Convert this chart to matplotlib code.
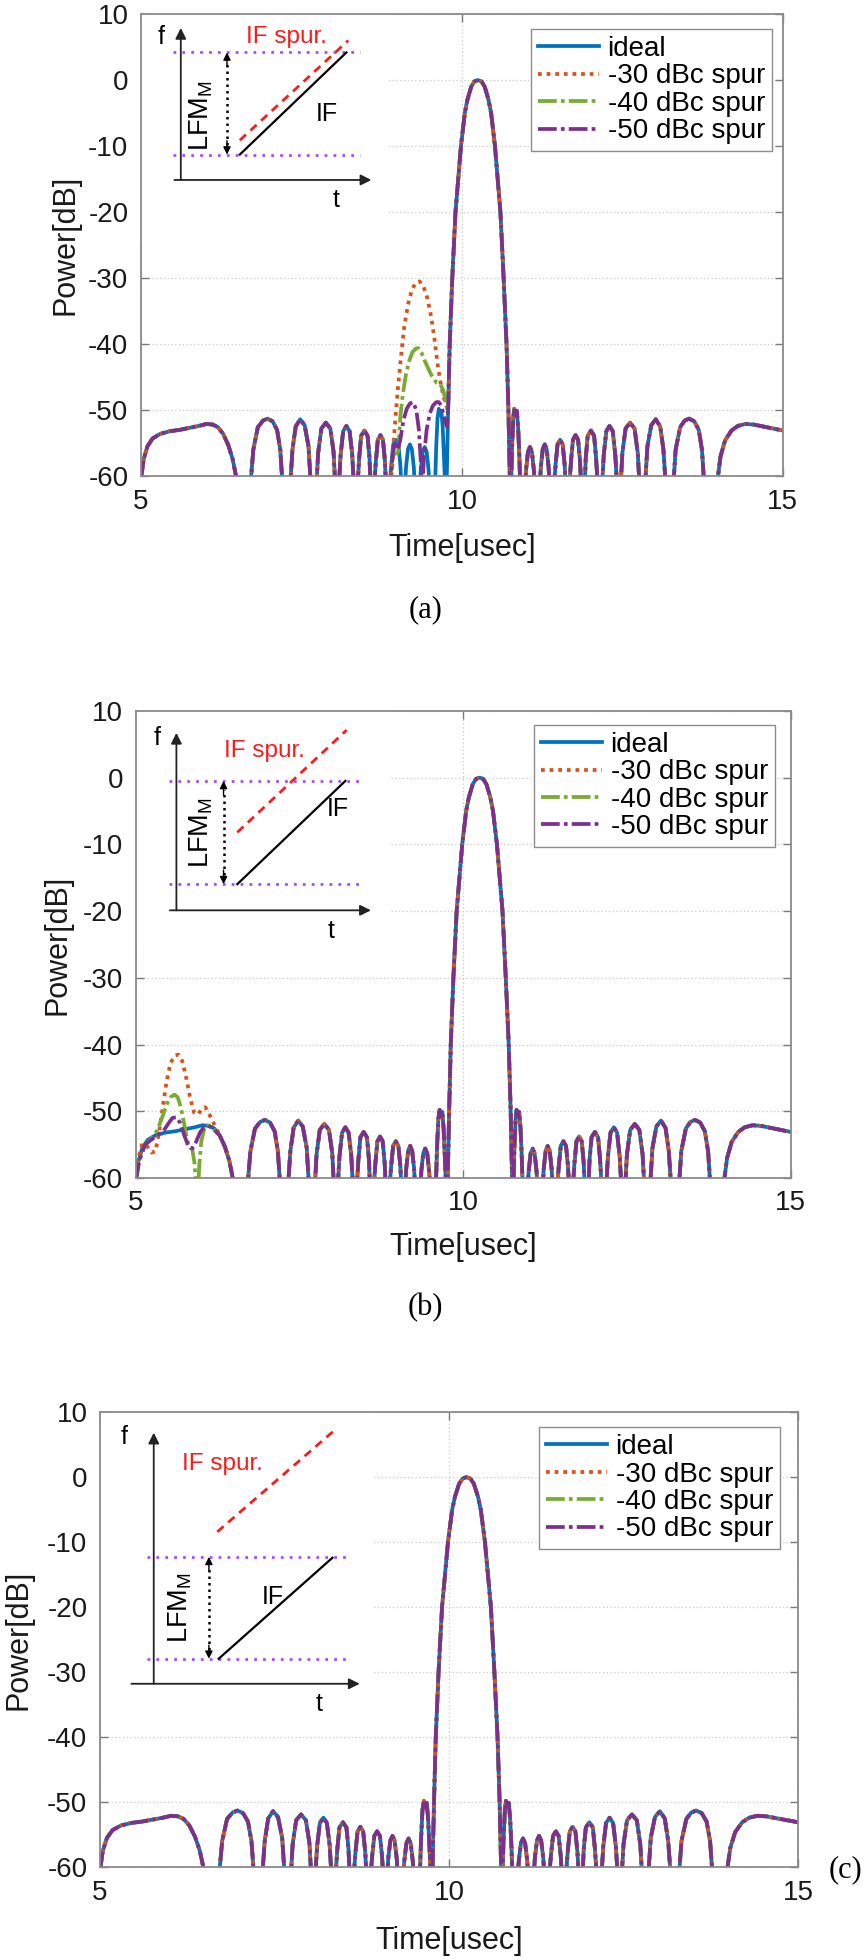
import matplotlib.pyplot as plt
from matplotlib.patches import Rectangle

plt.rcParams['font.family'] = ['Liberation Sans', 'DejaVu Sans']
plt.rcParams['mathtext.fontset'] = 'custom'
plt.rcParams['mathtext.rm'] = 'Liberation Sans'
plt.rcParams['axes.unicode_minus'] = False

# ideal compressed pulse (same curve in all three panels)
ideal_t = [5.0, 5.04, 5.1, 5.18, 5.3, 5.45, 5.6, 5.75, 5.9, 6.02, 6.12, 6.2, 6.28, 6.36, 6.43, 6.49, 6.5,
           6.70, 6.75, 6.82, 6.9, 6.97, 7.05, 7.12, 7.17, 7.21,
           7.32, 7.36, 7.41, 7.48, 7.55, 7.61, 7.65,
           7.73, 7.76, 7.81, 7.88, 7.95, 8.0, 8.03,
           8.08, 8.11, 8.15, 8.2, 8.25, 8.29, 8.32,
           8.37, 8.4, 8.43, 8.48, 8.53, 8.56, 8.58,
           8.63, 8.66, 8.69, 8.73, 8.77, 8.8, 8.82,
           8.87, 8.9, 8.93, 8.97, 9.01, 9.04, 9.06,
           9.11, 9.13, 9.16, 9.19, 9.22, 9.25, 9.27,
           9.34, 9.36, 9.39, 9.42, 9.45, 9.48, 9.5,
           9.58, 9.6, 9.62, 9.64, 9.66, 9.68, 9.7, 9.72, 9.74,
           9.76, 9.785, 9.81, 9.85, 9.9, 9.985, 10.045, 10.085, 10.145, 10.195, 10.25,
           10.305, 10.355, 10.415, 10.455, 10.515, 10.6, 10.65, 10.695, 10.725, 10.75,
           10.765, 10.78, 10.8, 10.815, 10.835, 10.855, 10.875, 10.895, 10.91,
           10.98, 11.0, 11.03, 11.06, 11.09, 11.12, 11.14,
           11.21, 11.23, 11.26, 11.29, 11.32, 11.35, 11.37,
           11.43, 11.46, 11.49, 11.53, 11.57, 11.6, 11.62,
           11.67, 11.7, 11.73, 11.77, 11.81, 11.84, 11.86,
           11.91, 11.93, 11.96, 12.01, 12.06, 12.09, 12.12,
           12.18, 12.21, 12.25, 12.3, 12.35, 12.39, 12.42,
           12.47, 12.5, 12.55, 12.62, 12.69, 12.74, 12.77,
           12.85, 12.89, 12.95, 13.02, 13.09, 13.14, 13.18,
           13.29, 13.33, 13.4, 13.47, 13.54, 13.62, 13.69, 13.74, 13.78,
           13.97, 13.99, 14.03, 14.1, 14.2, 14.3, 14.42, 14.55, 14.7, 14.85, 15.0]
ideal_db = [-60.5, -57.5, -55.5, -54.3, -53.6, -53.2, -53.0, -52.7, -52.4, -52.1, -52.2, -52.6, -53.6, -55.3, -57.5, -60.5, -62,
            -62, -56, -52.6, -51.6, -51.3, -51.7, -53, -56, -62,
            -62, -56, -52.5, -51.4, -52.3, -55.5, -62,
            -62, -56.5, -52.8, -51.9, -52.8, -56.3, -62,
            -62, -56.8, -53.2, -52.4, -53.2, -56.6, -62,
            -62, -57.2, -53.9, -53.1, -53.9, -57.2, -62,
            -62, -57.7, -54.5, -53.8, -54.5, -57.7, -62,
            -62, -58.2, -55.2, -54.5, -55.2, -58.2, -62,
            -62, -58.6, -55.9, -55.2, -55.9, -58.6, -62,
            -62, -59, -56.3, -55.6, -56.3, -59, -62,
            -62, -55.5, -51.2, -49.8, -50.8, -50.1, -52.5, -57, -62,
            -62, -50, -40, -30, -20, -10, -5, -3, -1, -0.2, 0,
            -0.2, -1, -3, -5, -10, -20, -30, -40, -50, -62,
            -62, -56, -51.2, -49.8, -50.8, -50.1, -52.5, -57, -62,
            -62, -59, -56.3, -55.6, -56.3, -59, -62,
            -62, -58.6, -55.9, -55.2, -55.9, -58.6, -62,
            -62, -58.2, -55.2, -54.5, -55.2, -58.2, -62,
            -62, -57.7, -54.5, -53.8, -54.5, -57.7, -62,
            -62, -57.2, -53.9, -53.1, -53.9, -57.2, -62,
            -62, -56.8, -53.2, -52.4, -53.2, -56.8, -62,
            -62, -56.5, -52.8, -51.9, -52.8, -56.5, -62,
            -62, -55.5, -52.3, -51.4, -52.5, -56, -62,
            -62, -56, -52.6, -51.6, -51.3, -51.7, -53, -56, -62,
            -62, -60, -57, -54.6, -53.1, -52.4, -52.1, -52.2, -52.5, -52.8, -53.1]

# (a) spur just before the main lobe
a_win = (8.86, 9.77)
a30_t = [8.88, 8.92, 8.95, 9.0, 9.05, 9.1, 9.16, 9.22, 9.28, 9.34, 9.4, 9.46, 9.52, 9.57, 9.62, 9.67, 9.72, 9.765]
a30_db = [-62, -58, -53, -47, -42, -37.5, -34, -31.8, -30.7, -30.5, -31.2, -33, -35.8, -39, -43, -46, -48.2, -49.6]
a40_t = [8.88, 8.91, 8.94, 8.97, 8.99, 9.01, 9.04, 9.08, 9.13, 9.18, 9.23, 9.28, 9.32, 9.37, 9.42, 9.48, 9.54, 9.6, 9.66, 9.71, 9.765]
a40_db = [-62, -58, -55.6, -55.5, -57, -56, -51, -47.5, -44.5, -42.5, -41.2, -40.7, -40.6, -41.3, -42.5, -43.8, -45, -45.8, -46, -47, -49.5]
a50_t = [8.88, 8.91, 8.94, 8.97, 9.0, 9.04, 9.09, 9.14, 9.19, 9.24, 9.29, 9.33, 9.36, 9.38, 9.41, 9.45, 9.5, 9.55, 9.6, 9.64, 9.68, 9.72, 9.765]
a50_db = [-62, -58, -55.3, -54.8, -56, -54.5, -51.5, -49.8, -49, -48.8, -50, -53, -58, -62, -57, -53, -50.5, -49.3, -48.8, -48.8, -49.3, -51, -52.5]

# (b) spur at the start of the record
b_win = (4.99, 6.21)
b30_t = [5.0, 5.04, 5.1, 5.17, 5.24, 5.3, 5.35, 5.41, 5.47, 5.53, 5.59, 5.65, 5.71, 5.77, 5.83, 5.89, 5.95, 6.01, 6.06, 6.12, 6.18]
b30_db = [-60.5, -57, -54.8, -55.2, -56.2, -56, -53.5, -49.5, -45.5, -42.8, -41.7, -41.5, -42.5, -45, -48, -50.2, -50.5, -49.6, -49.4, -50.4, -51.6]
b40_t = [5.0, 5.05, 5.14, 5.25, 5.33, 5.4, 5.47, 5.53, 5.59, 5.64, 5.69, 5.74, 5.79, 5.83, 5.86, 5.9, 5.92, 5.95, 5.97, 6.0, 6.05, 6.1, 6.16, 6.2]
b40_db = [-60.5, -57.5, -55, -54, -52.8, -51, -49, -47.9, -47.5, -47.9, -49.5, -52, -54.5, -55.5, -55.5, -58, -62, -62, -58, -54.5, -52.5, -52.1, -52.4, -52.8]
b50_t = [5.0, 5.05, 5.14, 5.3, 5.42, 5.5, 5.56, 5.62, 5.68, 5.74, 5.8, 5.86, 5.92, 5.98, 6.04, 6.1, 6.16, 6.2]
b50_db = [-60.5, -57.5, -55, -53.8, -53, -51.8, -51, -50.9, -51.8, -53.6, -55.2, -55.6, -54.6, -53.2, -52.4, -52.2, -52.4, -52.8]

labels = ['ideal', '-30 dBc spur', '-40 dBc spur', '-50 dBc spur']
colors = ['#0072BD', '#D95319', '#77AC30', '#7E2F8E']
styles = ['-', (0, (1, 1.3)), (0, (5, 1.1, 1, 1.1)), (0, (5, 1.1, 1, 1.1))]
yticks = [-60, -50, -40, -30, -20, -10, 0, 10]
xticks = [5, 10, 15]


def pieces(win, t, db):
    # ideal before the window, the spur part, ideal after the window;
    # drawn apart so the dash patterns of all curves stay in step outside the window
    if win is None:
        return [(ideal_t, ideal_db)]
    pre = [(x, y) for x, y in zip(ideal_t, ideal_db) if x < win[0]]
    post = [(x, y) for x, y in zip(ideal_t, ideal_db) if x > win[1]]
    mid = pre[-1:] + list(zip(t, db)) + post[:1]
    out = []
    for part in (pre, mid, post):
        if part:
            out.append(([q[0] for q in part], [q[1] for q in part]))
    return out


panels = [
    dict(rect=[0.163, 0.7571, 0.742, 0.2357], ylx=-0.118, xly=-0.156, tag='(a)', tag_xy=(0.4925, 0.6888),
         leg=(0.983, 0.9675),
         spurs=[pieces(a_win, a30_t, a30_db), pieces(a_win, a40_t, a40_db), pieces(a_win, a50_t, a50_db)],
         ins=dict(fx=0.062, tx0=0.052, ty=0.641, ftop=0.970, tx1=0.359, f=(0.032, 0.951), t=(0.304, 0.597),
                  hi=0.917, lo=0.696, px=(0.05, 0.341), ax_=0.134, lfm=(0.094, 0.78),
                  IF=((0.154, 0.696), (0.320, 0.917)), sp=((0.154, 0.727), (0.323, 0.943)),
                  sptxt=(0.227, 0.951), iftxt=(0.289, 0.784), mask=(0.386, 0.5))),
    dict(rect=[0.157, 0.399, 0.757, 0.2383], ylx=-0.119, xly=-0.148, tag='(b)', tag_xy=(0.4913, 0.3327),
         leg=(0.976, 0.970),
         spurs=[pieces(b_win, b30_t, b30_db), pieces(b_win, b40_t, b40_db), pieces(b_win, b50_t, b50_db)],
         ins=dict(fx=0.062, tx0=0.052, ty=0.573, ftop=0.953, tx1=0.359, f=(0.033, 0.943), t=(0.298, 0.528),
                  hi=0.850, lo=0.629, px=(0.05, 0.342), ax_=0.134, lfm=(0.10, 0.74),
                  IF=((0.155, 0.629), (0.32, 0.85)), sp=((0.155, 0.74), (0.322, 0.959)),
                  sptxt=(0.196, 0.914), iftxt=(0.309, 0.789), mask=(0.39, 0.5))),
    dict(rect=[0.1156, 0.0474, 0.807, 0.2321], ylx=-0.117, xly=-0.163, tag='(c)', tag_xy=(0.977, 0.0459),
         leg=(0.974, 0.967),
         spurs=[pieces(None, None, None)] * 3,
         ins=dict(fx=0.077, tx0=0.045, ty=0.403, ftop=0.955, tx1=0.372, f=(0.034, 0.945), t=(0.314, 0.358),
                  hi=0.682, lo=0.458, px=(0.068, 0.355), ax_=0.156, lfm=(0.115, 0.571),
                  IF=((0.170, 0.458), (0.333, 0.680)), sp=((0.168, 0.737), (0.335, 0.959)),
                  sptxt=(0.175, 0.885), iftxt=(0.247, 0.594), mask=(0.39, 0.33))),
]


def draw_inset(ax, g):
    ax.add_patch(Rectangle((0, g['mask'][1]), g['mask'][0], 1 - g['mask'][1], transform=ax.transAxes,
                           facecolor='white', edgecolor='none', zorder=1))
    kw = dict(xycoords='axes fraction', textcoords='axes fraction', annotation_clip=False)
    arr = dict(arrowstyle='-|>', color='#222222', lw=1.3, mutation_scale=16, shrinkA=0, shrinkB=0)
    ax.annotate('', xy=(g['fx'], g['ftop']), xytext=(g['fx'], g['ty']), arrowprops=arr, zorder=4, **kw)
    ax.annotate('', xy=(g['tx1'], g['ty']), xytext=(g['tx0'], g['ty']), arrowprops=arr, zorder=4, **kw)
    tr = ax.transAxes
    for yy in (g['hi'], g['lo']):
        ax.plot(g['px'], [yy, yy], transform=tr, color='#a64dff', ls=(0, (1, 2.2)), lw=2, zorder=4)
    ax.plot([g['ax_'], g['ax_']], [g['lo'] + 0.02, g['hi'] - 0.02], transform=tr, color='k', ls=(0, (1, 1.6)),
            lw=1.8, zorder=4)
    head = dict(arrowstyle='-|>', color='k', lw=1, mutation_scale=11, shrinkA=0, shrinkB=0)
    ax.annotate('', xy=(g['ax_'], g['hi']), xytext=(g['ax_'], g['hi'] - 0.03), arrowprops=head, zorder=4, **kw)
    ax.annotate('', xy=(g['ax_'], g['lo']), xytext=(g['ax_'], g['lo'] + 0.03), arrowprops=head, zorder=4, **kw)
    (x0, y0), (x1, y1) = g['IF']
    ax.plot([x0, x1], [y0, y1], transform=tr, color='k', lw=1.6, zorder=4)
    (x0, y0), (x1, y1) = g['sp']
    ax.plot([x0, x1], [y0, y1], transform=tr, color='#ff1a1a', lw=2, ls=(0, (3, 2.2)), zorder=4)
    ax.text(*g['f'], 'f', transform=tr, fontsize=18, ha='center', va='center', zorder=5)
    ax.text(*g['t'], 't', transform=tr, fontsize=18, ha='center', va='center', zorder=5)
    ax.text(*g['sptxt'], 'IF spur.', transform=tr, fontsize=17.5, color='#ff1a1a', ha='center', va='center',
            zorder=5)
    ax.text(*g['iftxt'], 'IF', transform=tr, fontsize=18, ha='center', va='center', zorder=5)
    ax.text(*g['lfm'], r'LFM$_\mathregular{M}$', transform=tr, fontsize=19.5, rotation=90,
            ha='center', va='center', zorder=5)


fig = plt.figure(figsize=(8.65, 19.6), dpi=100)

for p in panels:
    ax = fig.add_axes(p['rect'])
    curves = [pieces(None, None, None)] + p['spurs']
    handles = []
    for parts, c, ls in zip(curves, colors, styles):
        for k, (t, db) in enumerate(parts):
            ln, = ax.plot(t, db, color=c, ls=ls, lw=2.7, zorder=2)
            if k == 0:
                handles.append(ln)
    ax.set_xlim(5, 15)
    ax.set_ylim(-60, 10)
    ax.set_xticks(xticks)
    ax.set_xticklabels([str(v) for v in xticks])
    ax.set_yticks(yticks)
    ax.set_yticklabels([str(v) for v in yticks])
    ax.set_axisbelow(True)
    ax.grid(True, color='#c8c8c8', ls=(0, (1, 2)), lw=0.9)
    ax.tick_params(direction='in', length=6, width=1, top=True, right=True, labelsize=20,
                   color='#7a7a7a', labelcolor='#1a1a1a', pad=9)
    for s in ax.spines.values():
        s.set_color('#8a8a8a')
        s.set_linewidth(1.3)
    ax.set_xlabel('Time[usec]', fontsize=22, color='#1a1a1a', va='center')
    ax.set_ylabel('Power[dB]', fontsize=22, color='#1a1a1a', va='center')
    ax.xaxis.set_label_coords(0.5, p['xly'])
    ax.yaxis.set_label_coords(p['ylx'], 0.5)
    draw_inset(ax, p['ins'])
    leg = ax.legend(handles, labels, loc='upper right', bbox_to_anchor=p['leg'], borderaxespad=0,
                    fontsize=20, handlelength=2.2, handletextpad=0.3, labelspacing=0.05, borderpad=0.25,
                    fancybox=False, framealpha=1, edgecolor='#8c8c8c')
    leg.get_frame().set_linewidth(1.0)
    leg.set_zorder(6)
    fig.text(*p['tag_xy'], p['tag'], fontsize=22, family='Liberation Serif', ha='center', va='center')

fig.savefig('out.png', dpi=100)
